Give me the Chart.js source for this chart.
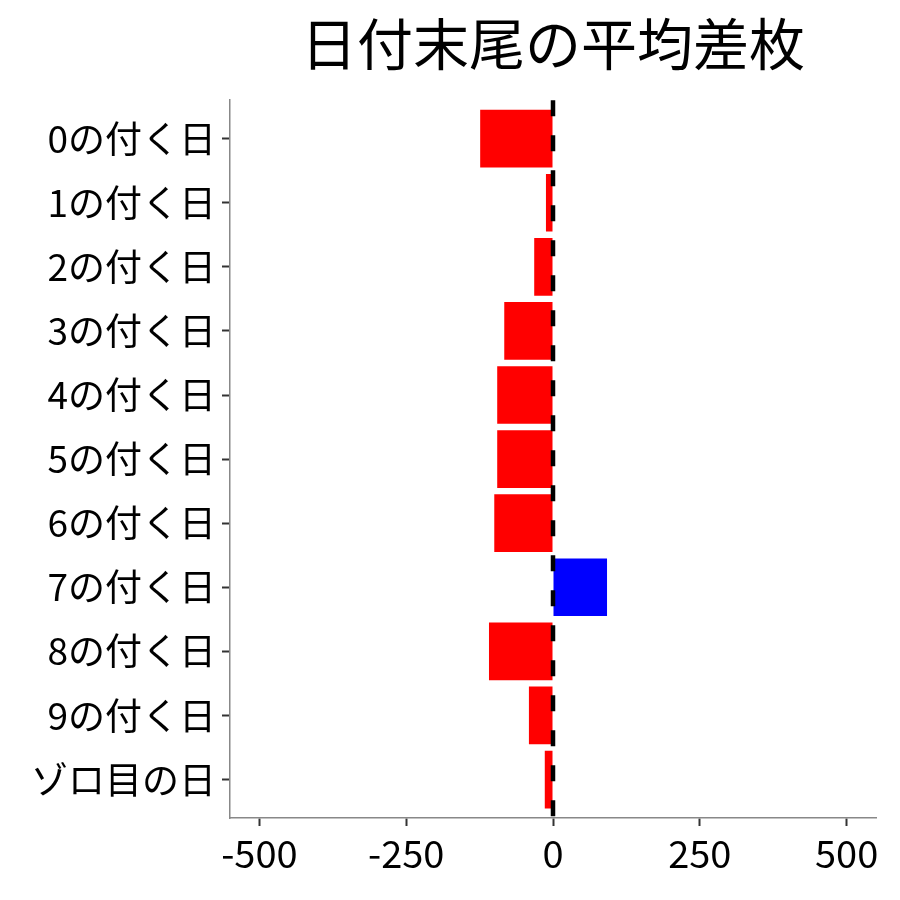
<!DOCTYPE html>
<html>
<head>
<meta charset="utf-8">
<script src="https://cdn.jsdelivr.net/npm/chart.js@4"></script>
<style>
  html, body { margin: 0; padding: 0; background: #fff; }
  #wrap { width: 900px; height: 900px; }
</style>
</head>
<body>
<div id="wrap"><canvas id="chart" width="900" height="900"></canvas></div>
<script>
const labels = ['0の付く日', '1の付く日', '2の付く日', '3の付く日', '4の付く日', '5の付く日',
                '6の付く日', '7の付く日', '8の付く日', '9の付く日', 'ゾロ目の日'];
const diffs = [-124, -12, -32, -83, -95, -95, -100, 92, -109, -41, -14];
const xTicks = [-500, -250, 0, 250, 500];

const font = '"Noto Sans CJK JP", "Noto Sans", sans-serif';

// dashed reference line at zero, drawn over the bars
const zeroLine = {
    id: 'zeroLine',
    afterDatasetsDraw(chart) {
        const { ctx, chartArea, scales } = chart;
        const x = scales.x.getPixelForValue(0);
        ctx.save();
        ctx.strokeStyle = '#000';
        ctx.lineWidth = 4.5;
        ctx.setLineDash([16, 19]);
        ctx.beginPath();
        ctx.moveTo(x, chartArea.top);
        ctx.lineTo(x, chartArea.bottom);
        ctx.stroke();
        ctx.restore();
    }
};

const ctx = document.getElementById('chart').getContext('2d');
new Chart(ctx, {
    type: 'bar',
    data: {
        datasets: [{
            data: diffs.map((v, i) => ({ x: v, y: i })),
            backgroundColor: diffs.map(v => v < 0 ? '#FF0000' : '#0000FF'),
            borderWidth: 0,
            barPercentage: 0.9,
            categoryPercentage: 1
        }]
    },
    options: {
        indexAxis: 'y',
        responsive: false,
        animation: false,
        layout: { padding: { left: 0, right: 24, top: 0, bottom: 0 } },
        plugins: {
            legend: { display: false },
            tooltip: { enabled: false },
            title: {
                display: true,
                text: '日付末尾の平均差枚',
                fullSize: false,
                color: '#000',
                font: { family: font, size: 56, weight: 'normal', lineHeight: 1.2 },
                padding: { top: 10, bottom: 23 }
            }
        },
        scales: {
            x: {
                type: 'linear',
                min: -550,
                max: 550,
                afterBuildTicks: s => { s.ticks = xTicks.map(v => ({ value: v })); },
                afterFit: s => { s.height = 82; },
                grid: { drawOnChartArea: false, drawTicks: true, tickLength: 8, tickWidth: 2, tickColor: '#333' },
                border: { color: '#888', width: 1.5 },
                ticks: { color: '#000', padding: 5, font: { family: font, size: 38 } }
            },
            y: {
                type: 'linear',
                reverse: true,
                offset: false,
                min: -0.6,
                max: labels.length - 0.4,
                afterBuildTicks: s => { s.ticks = labels.map((_, i) => ({ value: i })); },
                afterFit: s => { s.width = 230; },
                grid: { offset: false, drawOnChartArea: false, drawTicks: true, tickLength: 8, tickWidth: 2, tickColor: '#333' },
                border: { color: '#888', width: 1.5 },
                ticks: {
                    color: '#000',
                    padding: 6,
                    autoSkip: false,
                    font: { family: font, size: 37 },
                    callback: v => labels[v]
                }
            }
        }
    },
    plugins: [zeroLine]
});
</script>
</body>
</html>
